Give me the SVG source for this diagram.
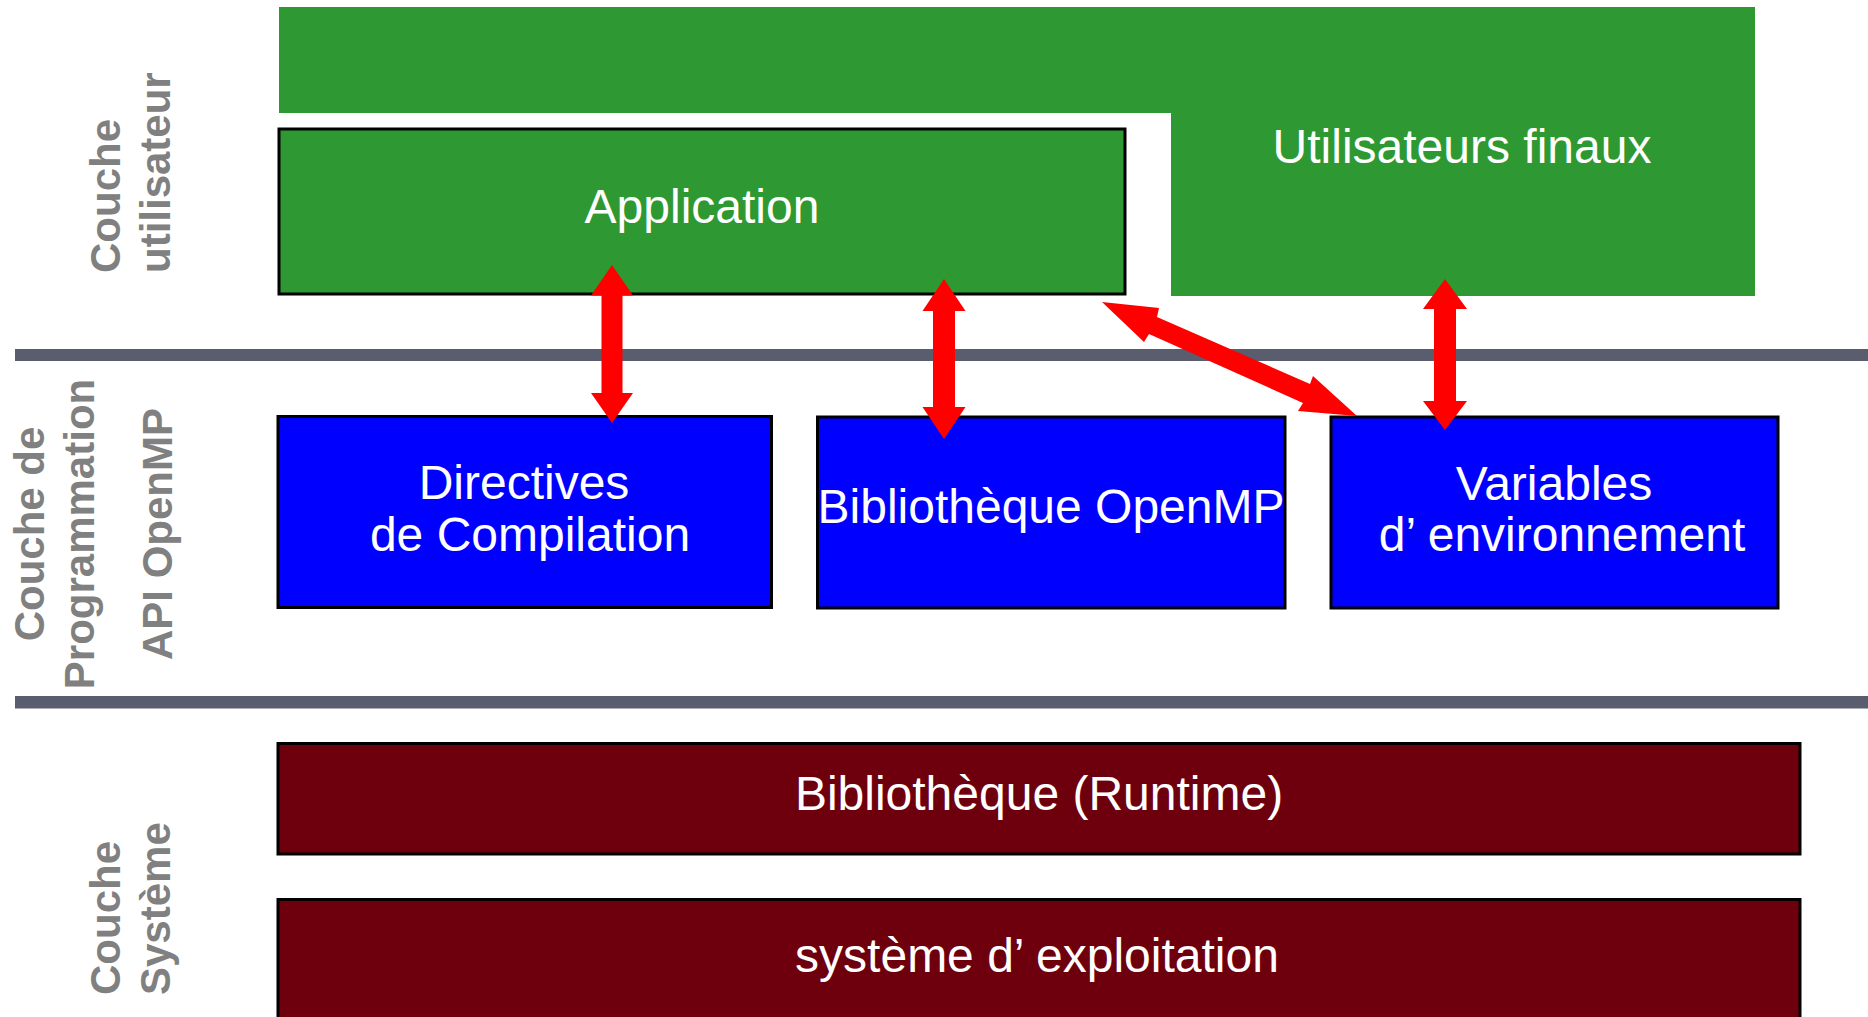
<svg xmlns="http://www.w3.org/2000/svg" width="1868" height="1017" viewBox="0 0 1868 1017">
  <style>
    .lbl { font-family: "Liberation Sans", Arial, sans-serif; font-size: 42px; font-weight: bold; fill: #808080; }
    .txt { font-family: "Liberation Sans", Arial, sans-serif; font-size: 48px; fill: #ffffff; text-anchor: middle; }
    .green { fill: #2e9932; }
    .blue { fill: #0000ff; stroke: #000000; stroke-width: 3; }
    .brown { fill: #6e000e; stroke: #000000; stroke-width: 3; }
    .sep { fill: #5a5d6d; }
    .arrow { fill: #ff0000; }
  </style>
  <rect width="1868" height="1017" fill="#ffffff"/>

  <!-- layer separators -->
  <g id="separators">
    <rect class="sep" x="15" y="349" width="1853" height="12"/>
    <rect class="sep" x="15" y="696" width="1853" height="12.5"/>
  </g>

  <!-- layer titles -->
  <g id="label-user" class="lbl" transform="translate(120,273) rotate(-90)">
    <text x="0" y="0">Couche</text>
    <text x="0" y="50">utilisateur</text>
  </g>
  <g id="label-api" class="lbl" text-anchor="middle" transform="translate(0,534) rotate(-90)">
    <text x="0" y="44">Couche de</text>
    <text x="0" y="94">Programmation</text>
    <text x="0" y="172">API OpenMP</text>
  </g>
  <g id="label-system" class="lbl" transform="translate(120,995) rotate(-90)">
    <text x="0" y="0">Couche</text>
    <text x="0" y="50">Système</text>
  </g>

  <!-- user layer -->
  <g id="end-users">
    <path class="green" d="M279,7 H1755 V296 H1171 V113 H279 Z"/>
    <text class="txt" x="1462" y="163">Utilisateurs finaux</text>
  </g>
  <g id="application">
    <rect class="green" x="279" y="129" width="846" height="165" stroke="#000000" stroke-width="3"/>
    <text class="txt" x="702" y="223">Application</text>
  </g>

  <!-- OpenMP API layer -->
  <g id="directives">
    <rect class="blue" x="278" y="416.5" width="493.5" height="191"/>
    <text class="txt" x="524" y="499">Directives</text>
    <text class="txt" x="530" y="551">de Compilation</text>
  </g>
  <g id="openmp-library">
    <rect class="blue" x="817.5" y="417" width="467.5" height="191"/>
    <text class="txt" x="1051" y="523">Bibliothèque OpenMP</text>
  </g>
  <g id="env-variables">
    <rect class="blue" x="1331" y="417" width="447" height="191"/>
    <text class="txt" x="1554" y="500">Variables</text>
    <text class="txt" x="1562" y="551">d’ environnement</text>
  </g>

  <!-- system layer -->
  <g id="runtime">
    <rect class="brown" x="278" y="743.5" width="1522" height="110.5"/>
    <text class="txt" x="1039" y="810">Bibliothèque (Runtime)</text>
  </g>
  <g id="os">
    <rect class="brown" x="278" y="899.5" width="1522" height="140"/>
    <text class="txt" x="1037" y="972">système d’ exploitation</text>
  </g>

  <!-- double-headed block arrows -->
  <g id="connectors" class="arrow">
    <polygon points="612,265 633,295.5 622.5,295.5 622.5,393 633,393 612,423 591,393 601.5,393 601.5,295.5 591,295.5"/>
    <polygon points="944,279 965.5,311 955,311 955,407 965.5,407 944,439 922.5,407 933,407 933,311 922.5,311"/>
    <polygon points="1445,279 1467,309 1456,309 1456,401 1467,401 1445,430 1423,401 1434,401 1434,309 1423,309"/>
    <polygon points="1102,302 1159,308 1157,317 1310,384 1313,376 1357,416 1298,411 1303,403 1149,334 1144,342"/>
  </g>
</svg>
